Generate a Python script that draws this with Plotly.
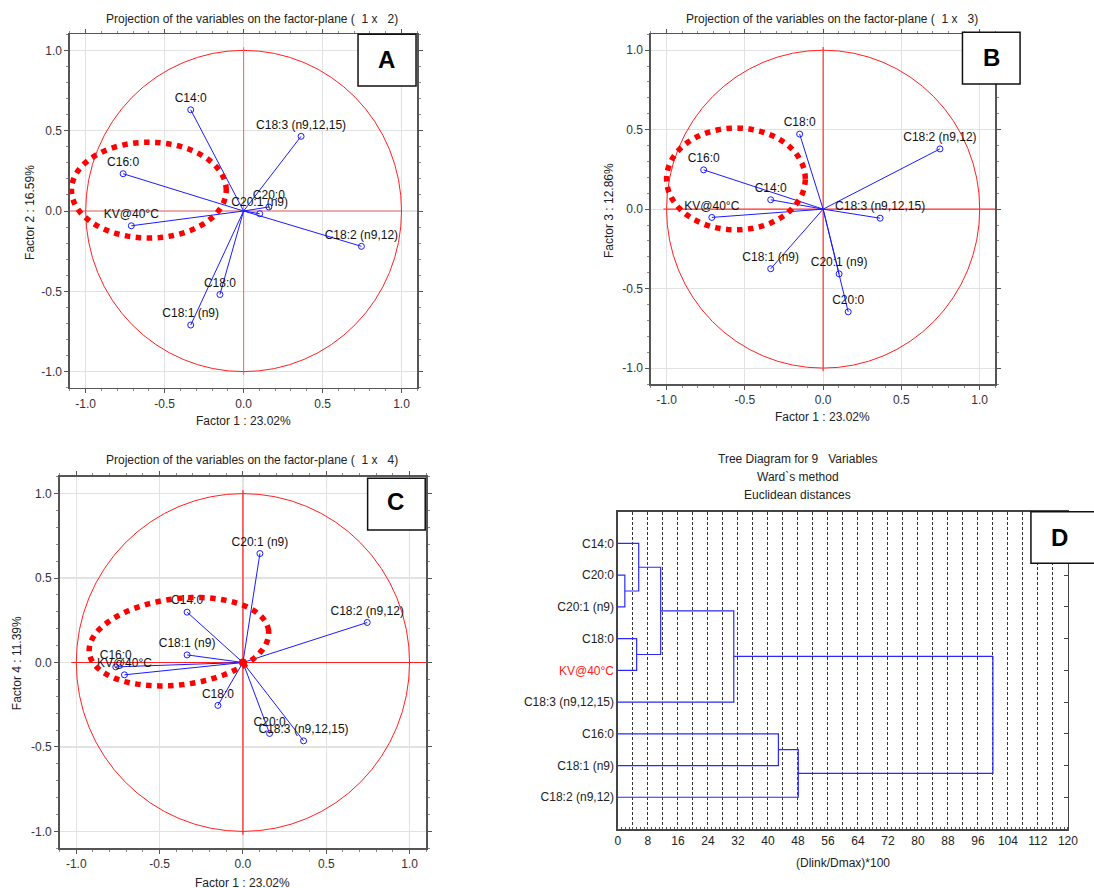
import numpy as np
import plotly.graph_objects as go

W, H = 1094, 888
FONT = "Liberation Sans, Arial, sans-serif"

# ---------------- data ----------------
variables = ["C14:0", "C16:0", "C18:0", "C18:1 (n9)", "C18:2 (n9,12)",
             "C18:3 (n9,12,15)", "C20:0", "C20:1 (n9)", "KV@40°C"]
factor1 = [-0.335, -0.763, -0.150, -0.335, 0.746, 0.364, 0.160, 0.102, -0.711]
factor2 = [0.630, 0.232, -0.520, -0.710, -0.220, 0.465, 0.025, -0.017, -0.092]
factor3 = [0.059, 0.247, 0.472, -0.375, 0.379, -0.057, -0.646, -0.407, -0.052]
factor4 = [0.298, -0.026, -0.254, 0.045, 0.237, -0.464, -0.420, 0.645, -0.073]

factor_titles = ["Factor 1 : 23.02%", "Factor 2 : 16.59%", "Factor 3 : 12.86%", "Factor 4 : 11.39%"]
axis_ticks = [-1.0, -0.5, 0.0, 0.5, 1.0]
axis_ticktext = ["-1.0", "-0.5", "0.0", "0.5", "1.0"]

dendro_leaves = ["C14:0", "C20:0", "C20:1 (n9)", "C18:0", "KV@40°C",
                 "C18:3 (n9,12,15)", "C16:0", "C18:1 (n9)", "C18:2 (n9,12)"]
merge_a = [1, 0, 3, 10, 12, 6, 14, 13]
merge_b = [2, 9, 4, 11, 5, 7, 8, 15]
merge_h = [1.85, 5.55, 5.0, 11.4, 30.9, 42.8, 48.1, 100.0]
dendro_ticks = list(range(0, 121, 4))


def px(x):
    return x / W


def py(y):
    return 1 - y / H


fig = go.Figure()

panels = [
    ("x", "y", factor2),
    ("x2", "y2", factor3),
    ("x3", "y3", factor4),
]

for xr, yr, fy in panels:
    lx, ly = [], []
    for a, b in zip(factor1, fy):
        lx += [0, a, None]
        ly += [0, b, None]
    fig.add_trace(go.Scatter(x=lx, y=ly, mode="lines", line=dict(color="#1a1aff", width=1),
                             xaxis=xr, yaxis=yr, hoverinfo="skip", showlegend=False))
    fig.add_trace(go.Scatter(x=factor1, y=fy, mode="markers+text", text=variables,
                             textposition="top center",
                             textfont=dict(size=12, color="#111", family=FONT),
                             marker=dict(symbol="circle-open", size=6, color="#1a1aff",
                                         line=dict(width=1, color="#1a1aff")),
                             xaxis=xr, yaxis=yr, showlegend=False))

# dendrogram
node_x = [0.0] * len(dendro_leaves)
node_y = [i + 1.0 for i in range(len(dendro_leaves))]
dx, dy = [], []
for a, b, h in zip(merge_a, merge_b, merge_h):
    dx += [node_x[a], h, h, node_x[b], None]
    dy += [node_y[a], node_y[a], node_y[b], node_y[b], None]
    node_x.append(h)
    node_y.append((node_y[a] + node_y[b]) / 2)
fig.add_trace(go.Scatter(x=dx, y=dy, mode="lines", line=dict(color="#2a2aff", width=1.2),
                         xaxis="x4", yaxis="y4", hoverinfo="skip", showlegend=False))
fig.add_trace(go.Scatter(x=[None], y=[None], mode="markers", xaxis="x4", yaxis="y5",
                         showlegend=False, hoverinfo="skip"))


def factor_axis(domain, anchor):
    return dict(domain=domain, anchor=anchor, range=[-1.1, 1.1],
                tickvals=axis_ticks, ticktext=axis_ticktext,
                showgrid=True, gridcolor="#e2e2e2", gridwidth=1.2, zeroline=False,
                showline=True, linecolor="#555", linewidth=1.5, mirror="ticks",
                ticks="outside", ticklen=4, tickcolor="#555",
                minor=dict(dtick=0.1, ticks="outside", ticklen=2, tickcolor="#888", showgrid=False),
                tickfont=dict(size=12, color="#333", family=FONT))


dom = {
    "A": ([px(67.7), px(419.3)], [py(387.7), py(34.3)]),
    "B": ([px(655.7), px(1004.3)], [py(384), py(34.3)]),
    "C": ([px(57.3), px(428.3)], [py(848.3), py(476.7)]),
    "D": ([px(622.3), px(1077.7)], [py(829), py(511.7)]),
}

layout = dict(
    width=W, height=H, margin=dict(l=0, r=0, t=0, b=0),
    paper_bgcolor="white", plot_bgcolor="white",
    font=dict(family=FONT, size=12, color="#222"),
    showlegend=False, hovermode=False,
    xaxis=factor_axis(dom["A"][0], "y"), yaxis=factor_axis(dom["A"][1], "x"),
    xaxis2=factor_axis(dom["B"][0], "y2"), yaxis2=factor_axis(dom["B"][1], "x2"),
    xaxis3=factor_axis(dom["C"][0], "y3"), yaxis3=factor_axis(dom["C"][1], "x3"),
    xaxis4=dict(domain=dom["D"][0], anchor="y4", range=[0, 120],
                tickvals=dendro_ticks,
                ticktext=[str(v) if v % 8 == 0 else "" for v in dendro_ticks],
                showgrid=True, gridcolor="#333", gridwidth=1, griddash="3px,2px",
                zeroline=False, showline=True, linecolor="#444", linewidth=1.5, mirror=True,
                ticks="", minor=dict(dtick=1, ticks="inside", ticklen=2, tickcolor="#555", showgrid=False),
                tickfont=dict(size=12, color="#222", family=FONT)),
    yaxis4=dict(domain=dom["D"][1], anchor="x4", range=[10, 0],
                tickvals=[i + 1 for i in range(len(dendro_leaves))],
                ticktext=[("<span style='color:#ff2020'>%s</span>" % t) if t.startswith("KV") else t
                          for t in dendro_leaves],
                showgrid=False, zeroline=False, showline=True, linecolor="#444", linewidth=1.5,
                mirror=True, ticks="",
                tickfont=dict(size=12, color="#222", family=FONT)),
    yaxis5=dict(overlaying="y4", anchor="x4", side="right", range=[10, 0],
                tickvals=[i + 1 for i in range(len(dendro_leaves))],
                showticklabels=False, ticks="inside", ticklen=4, tickcolor="#444",
                showgrid=False, zeroline=False, showline=False),
)

shapes = []
# correlation circles and zero lines
zero_h = {"x": (-1.1, 1.0), "x2": (-1.02, 1.1), "x3": (-1.03, 1.1)}
zero_col = {"x": "rgba(255,60,60,0.65)", "x2": "#ff3030", "x3": "#ff2020"}
for xr, yr, _ in panels:
    shapes.append(dict(type="circle", xref=xr, yref=yr, x0=-1, x1=1, y0=-1, y1=1,
                       line=dict(color="#ff2020", width=1), layer="between"))
    shapes.append(dict(type="line", xref=xr, yref=yr, x0=zero_h[xr][0], x1=zero_h[xr][1], y0=0, y1=0,
                       line=dict(color=zero_col[xr], width=1.2), layer="between"))
    shapes.append(dict(type="line", xref=xr, yref=yr, x0=0, x1=0, y0=-1.02, y1=1.02,
                       line=dict(color=zero_col[xr], width=1.2), layer="between"))

# red origin dot in panel C
shapes.append(dict(type="circle", xref="x3", yref="y3", xsizemode="pixel", ysizemode="pixel",
                   xanchor=0, yanchor=0, x0=-4, x1=4, y0=-4, y1=4,
                   fillcolor="#ff0000", line=dict(color="#ff0000", width=0)))


def ellipse_path(cx, cy, a, b, ang_deg):
    t = np.linspace(0, 2 * np.pi, 120)
    ang = np.deg2rad(ang_deg)
    xs = cx + a * np.cos(t) * np.cos(ang) - b * np.sin(t) * np.sin(ang)
    ys = cy + a * np.cos(t) * np.sin(ang) + b * np.sin(t) * np.cos(ang)
    return "M " + " L ".join("%.4f,%.4f" % (x, y) for x, y in zip(xs, ys)) + " Z"


ellipses = [("x", "y", -0.60, 0.13, 0.49, 0.298, 0),
            ("x2", "y2", -0.557, 0.19, 0.443, 0.32, 0),
            ("x3", "y3", -0.384, 0.123, 0.542, 0.255, 7)]
for xr, yr, cx, cy, a, b, ang in ellipses:
    shapes.append(dict(type="path", xref=xr, yref=yr, path=ellipse_path(cx, cy, a, b, ang),
                       line=dict(color="#ff0000", width=5.5, dash="dot")))

# letter boxes
boxes = [("A", 359.3, 418.0, 34.3, 86.0, 388.3, 59.3),
         ("B", 971.0, 1029.3, 32.3, 84.0, 1000.0, 57.3),
         ("C", 369.0, 427.3, 478.3, 530.0, 397.7, 501.7),
         ("D", 1040.3, 1110.0, 511.7, 563.3, 1069.0, 537.3)]
annotations = []
for letter, x0, x1, y0, y1, lx, ly in boxes:
    shapes.append(dict(type="rect", xref="paper", yref="paper", x0=px(x0), x1=px(x1),
                       y0=py(y1), y1=py(y0), fillcolor="white", line=dict(color="#111", width=1.5)))
    annotations.append(dict(text="<b>%s</b>" % letter, x=px(lx), y=py(ly), xref="paper", yref="paper",
                            showarrow=False, xanchor="center", yanchor="middle",
                            font=dict(size=24, color="#000", family=FONT)))


def ann(text, x, y, size=12, color="#222", angle=0):
    annotations.append(dict(text=text, x=px(x), y=py(y), xref="paper", yref="paper", showarrow=False,
                            xanchor="center", yanchor="middle", textangle=angle,
                            font=dict(size=size, color=color, family=FONT)))


nb = "\u00a0"
ann("Projection of the variables on the factor-plane (" + nb + " 1 x" + nb + nb + " 2)", 252, 18.7)
ann("Projection of the variables on the factor-plane (" + nb + " 1 x" + nb + nb + " 3)", 838.7, 18.7)
ann("Projection of the variables on the factor-plane (" + nb + " 1 x" + nb + nb + " 4)", 252, 460)
ann("Tree Diagram for 9" + nb + nb + " Variables", 804.3, 459.3)
ann("Ward`s method", 804.3, 477.3)
ann("Euclidean distances", 804.3, 495.3)

ann(factor_titles[0], 243.3, 421)
ann(factor_titles[1], 26.7, 212.5, angle=-90)
ann(factor_titles[0], 829.7, 416.7)
ann(factor_titles[2], 614, 210.3, angle=-90)
ann(factor_titles[0], 242.7, 883)
ann(factor_titles[3], 14, 663.3, angle=-90)
ann("(Dlink/Dmax)*100", 849.7, 863.3)

layout["shapes"] = shapes
layout["annotations"] = annotations
fig.update_layout(**layout)

fig.write_html("out.html", config={"displayModeBar": False, "staticPlot": True},
               post_script="document.body.style.margin='0';document.body.style.overflow='hidden';")
